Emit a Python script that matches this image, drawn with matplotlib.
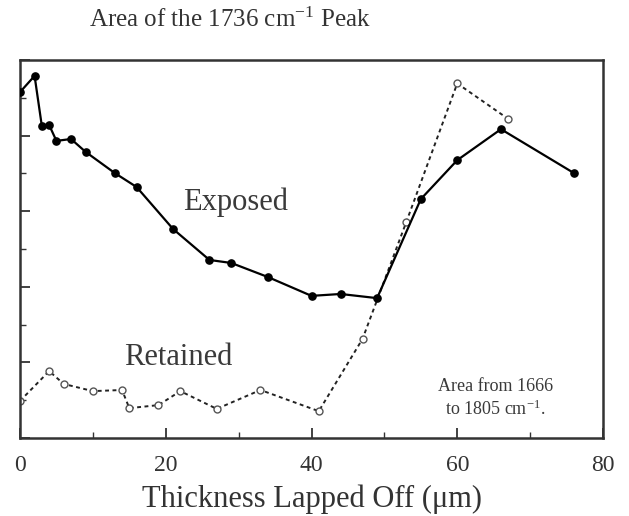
import matplotlib
matplotlib.use("Agg")
import matplotlib.pyplot as plt
from matplotlib.ticker import MultipleLocator

plt.rcParams['font.family'] = ['Liberation Serif', 'DejaVu Serif']
plt.rcParams['mathtext.fontset'] = 'custom'
plt.rcParams['mathtext.rm'] = 'Liberation Serif'
plt.rcParams['mathtext.it'] = 'Liberation Serif:italic'

# Exposed (filled circles, solid line)
exposed_x = [0, 2, 3, 4, 5, 7, 9, 13, 16, 21, 26, 29, 34, 40, 44, 49, 55, 60, 66, 76]
exposed_y = [9.15, 9.58, 8.25, 8.28, 7.86, 7.91, 7.57, 7.01, 6.64, 5.53, 4.71, 4.63, 4.26, 3.76, 3.81, 3.70, 6.32, 7.35, 8.17, 7.01]

# Retained (open circles, dashed line)
retained_x = [0, 4, 6, 10, 14, 15, 19, 22, 27, 33, 41, 47, 53, 60, 67]
retained_y = [0.98, 1.77, 1.43, 1.24, 1.27, 0.79, 0.87, 1.24, 0.77, 1.27, 0.71, 2.62, 5.71, 9.38, 8.44]

x_ticks = [0, 20, 40, 60, 80]

fig = plt.figure(figsize=(6.29, 5.16), dpi=100)
ax = fig.add_axes([20/629, 1-438/516, 583/629, 378/516])

ax.plot(exposed_x, exposed_y, '-', color='black', lw=1.6, marker='o',
        markersize=5.2, markerfacecolor='black', markeredgecolor='black', zorder=3)
ax.plot(retained_x, retained_y, '--', color='#222222', lw=1.4, dashes=(2, 1.8),
        marker='o', markersize=5, markerfacecolor='white', markeredgecolor='#555555',
        markeredgewidth=1.0, zorder=2)

ax.set_xlim(0, 80)
ax.set_ylim(0, 10)
ax.set_xticks(x_ticks)
ax.set_xticklabels([str(t) for t in x_ticks])
ax.xaxis.set_minor_locator(MultipleLocator(10))
ax.yaxis.set_major_locator(MultipleLocator(2))
ax.yaxis.set_minor_locator(MultipleLocator(1))
ax.set_yticklabels([])
ax.tick_params(which='major', direction='in', length=7, width=1.3, labelsize=17,
               colors='#333333', pad=12)
ax.tick_params(which='minor', direction='in', length=4, width=1.0, colors='#333333')
ax.tick_params(axis='y', which='both', left=True, labelleft=False)
for s in ax.spines.values():
    s.set_linewidth(1.8)
    s.set_color('#333333')

ax.set_xlabel('Thickness Lapped Off (\u03bcm)', fontsize=22, color='#333333', labelpad=6)

fig.text(230/629, 1-20/516, r'Area of the 1736 cm$^{-1}$ Peak', fontsize=18,
         ha='center', va='center', color='#333333')

ax.text(29.6, 6.24, 'Exposed', fontsize=22, ha='center', va='center', color='#3a3a3a')
ax.text(21.7, 2.12, 'Retained', fontsize=22, ha='center', va='center', color='#3a3a3a')
ax.text(65.2, 1.05, 'Area from 1666\n' + r'to 1805 cm$^{-1}$.', fontsize=13,
        ha='center', va='center', color='#3a3a3a', linespacing=1.3)

fig.savefig('out.png', dpi=100)
